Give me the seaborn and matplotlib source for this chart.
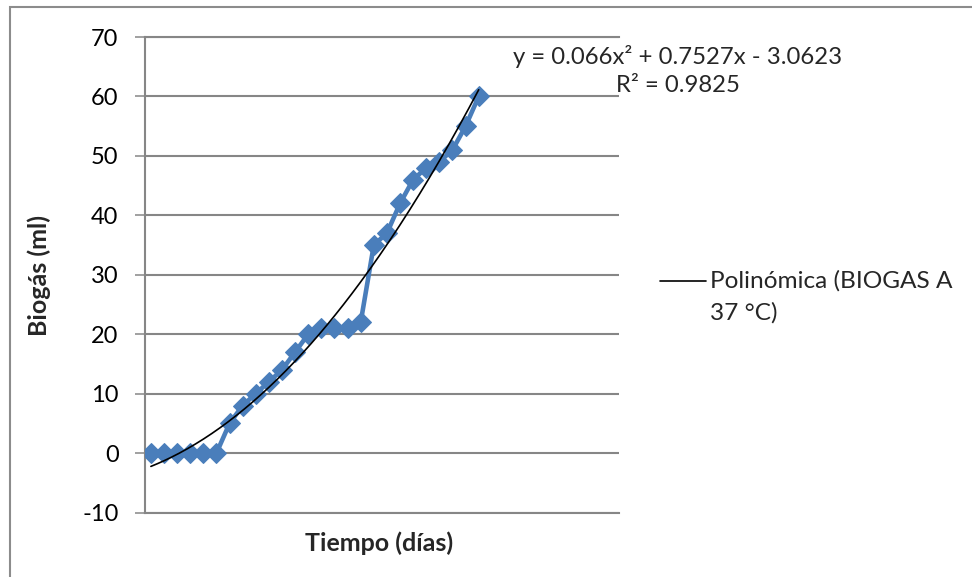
import numpy as np
import pandas as pd
import matplotlib
matplotlib.use("Agg")
import matplotlib.pyplot as plt
from matplotlib.lines import Line2D
from matplotlib.patches import Rectangle
import seaborn as sns

# ---- data ----
dias = list(range(1, 27))
biogas = [0, 0, 0, 0, 0, 0, 5, 8, 10, 12, 14, 17, 20, 21, 21, 21, 22,
          35, 37, 42, 46, 48, 49, 51, 55, 60]
poly_coef = [0.066, 0.7527, -3.0623]   # trendline y = a x^2 + b x + c
r2 = 0.9825
y_ticks = [-10, 0, 10, 20, 30, 40, 50, 60, 70]

eq_text = "y = 0.066x² + 0.7527x - 3.0623"
r2_text = "R² = 0.9825"
legend_line1 = "Polinómica (BIOGAS A"
legend_line2 = "37 °C)"
x_title = "Tiempo (días)"
y_title = "Biogás (ml)"

sns.set_style("white")
plt.rcParams["font.family"] = ["Lato", "DejaVu Sans"]
plt.rcParams["axes.unicode_minus"] = False

W, H = 972, 577
fig = plt.figure(figsize=(W / 100, H / 100), dpi=100)

# chart-area border
fig.add_artist(Rectangle((10 / W, -0.05), 1.1, 1 - 7 / H + 0.05,
                         transform=fig.transFigure, fill=False,
                         edgecolor="#8c8c8c", linewidth=1.5))

ax = fig.add_axes([145 / W, 1 - 512.5 / H, 474 / W, 475.5 / H])

df = pd.DataFrame({"dias": dias, "biogas": biogas})
sns.lineplot(data=df, x="dias", y="biogas", ax=ax, color="#4A7EBB",
             linewidth=3.3, marker="D", markersize=10.5,
             markeredgecolor="#4A7EBB", zorder=3)

xs = np.linspace(dias[0], dias[-1], 200)
ys = np.polyval(poly_coef, xs)
ax.plot(xs, ys, color="black", linewidth=1.2, zorder=4)

ax.set_xlim(0.55, 36.7)
ax.set_ylim(-10, 70)
ax.set_yticks(y_ticks)
ax.set_xticks([])
ax.yaxis.grid(True, color="#868686", linewidth=1.5)
ax.set_axisbelow(True)
ax.spines["right"].set_visible(False)
for side in ["left", "bottom", "top"]:
    ax.spines[side].set_color("#868686")
    ax.spines[side].set_linewidth(1.5)
ax.tick_params(axis="y", length=7, width=1.1, color="#868686",
               pad=12, labelsize=17, labelcolor="black", left=True)
ax.set_xlabel("")
ax.set_ylabel("")

fig.text(379 / W, 1 - 543 / H, x_title, ha="center", va="center",
         fontsize=18, fontweight="bold")
fig.text(39 / W, 1 - 275 / H, y_title, ha="center", va="center",
         rotation=90, fontsize=18, fontweight="bold")

fig.text(678 / W, 1 - 56 / H, eq_text, ha="center", va="center", fontsize=17.2)
fig.text(678 / W, 1 - 86 / H, r2_text, ha="center", va="center", fontsize=17.2)

# legend (trendline only)
fig.add_artist(Line2D([660 / W, 706 / W], [1 - 281 / H, 1 - 281 / H],
                      transform=fig.transFigure, color="black", linewidth=1.2))
fig.text(710 / W, 1 - 281 / H, legend_line1, ha="left",
         va="center", fontsize=17.6)
fig.text(710 / W, 1 - 313 / H, legend_line2, ha="left", va="center",
         fontsize=17.6)

fig.savefig("out.png", dpi=100, facecolor="white")
